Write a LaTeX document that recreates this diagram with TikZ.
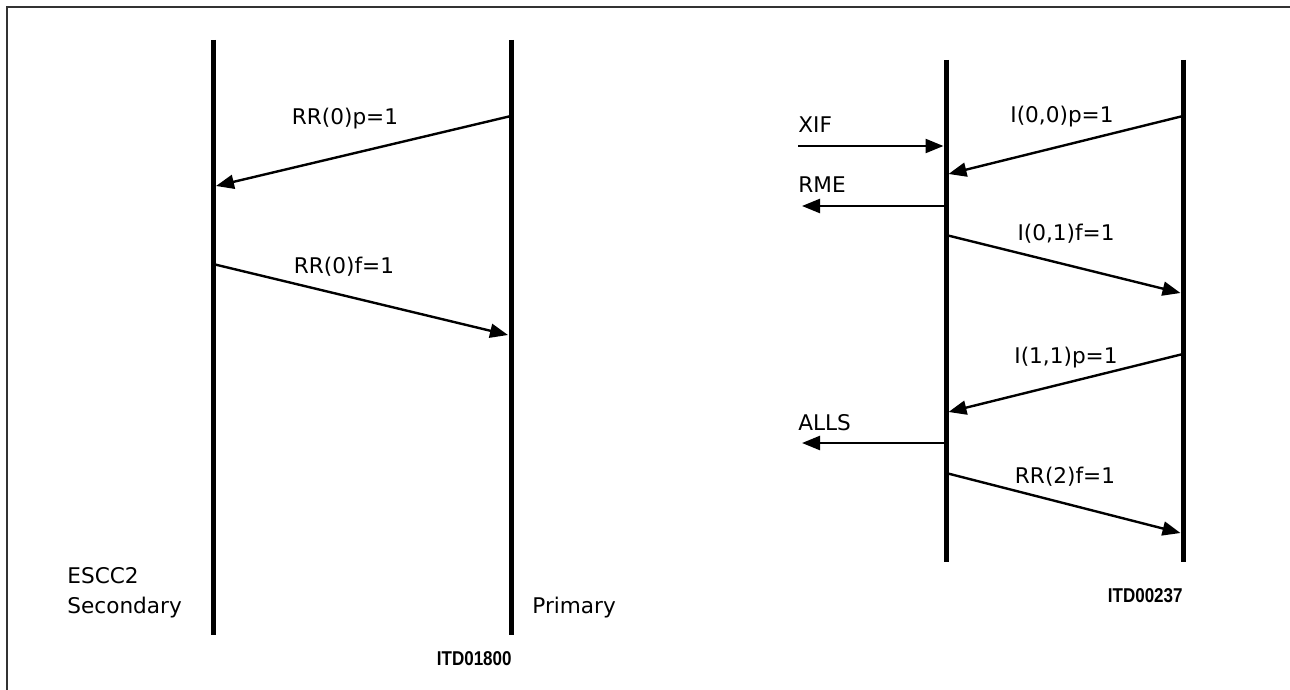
\documentclass[tikz,border=0pt]{standalone}
\usepackage{fontspec}
\setmainfont{DejaVu Sans}
\newfontfamily\itdfont[FakeStretch=0.85]{Liberation Sans}
\usetikzlibrary{positioning,arrows.meta}

\begin{document}
\begin{tikzpicture}[
    x=0.5pt,y=-0.5pt,
    life/.style={line width=2.5pt},
    msg/.style={line width=1.2pt,-{Triangle[length=9pt,width=7pt]}},
    lbl/.style={inner sep=0pt,font=\fontsize{10.8}{15}\selectfont},
    tag/.style={inner sep=0pt,font=\itdfont\bfseries\fontsize{10}{12}\selectfont}
  ]
  \useasboundingbox (0,0) rectangle (1290,690);
  \draw[line width=1pt,black!80] (7,690) -- (7,7) -- (1290,7);

  % left chart
  \coordinate (sec top) at (213,40);
  \coordinate (sec bot) at (213,635);
  \coordinate (pri top) at (511,40);
  \coordinate (pri bot) at (511,635);
  \draw[life] (sec top) -- (sec bot);
  \draw[life] (pri top) -- (pri bot);

  \coordinate (pri a) at (511,116);
  \coordinate (sec a) at (216,186);
  \coordinate (sec b) at (213,264);
  \coordinate (pri b) at (508,335);
  \draw[msg] (pri a) -- (sec a);
  \draw[msg] (sec b) -- (pri b);
  \node[lbl,anchor=base] (rrp) at (345,125) {RR(0)p=1};
  \node[lbl,anchor=base] (rrf) at (344,273) {RR(0)f=1};

  \node[lbl,anchor=south west,align=left] (escc) at (67,618) {ESCC2\\Secondary};
  \node[lbl,anchor=base west] (prim) at (532,613) {Primary};
  \node[tag,anchor=base east] (itd1) at (512,665) {ITD01800};

  % right chart
  \coordinate (st top) at (946,60);
  \coordinate (st bot) at (946,562);
  \coordinate (pr top) at (1183,60);
  \coordinate (pr bot) at (1183,562);
  \draw[life] (st top) -- (st bot);
  \draw[life] (pr top) -- (pr bot);

  \coordinate (xif) at (798,146);
  \coordinate (st xif) at (943.5,146);
  \coordinate (pr a) at (1183,116);
  \coordinate (st a) at (948.5,174);
  \coordinate (st rme) at (946,206);
  \coordinate (rme) at (802,206);
  \coordinate (st b) at (946,235);
  \coordinate (pr b) at (1180.5,293);
  \coordinate (pr c) at (1183,354);
  \coordinate (st c) at (948.5,412);
  \coordinate (st alls) at (946,443);
  \coordinate (alls) at (802,443);
  \coordinate (st d) at (946,473);
  \coordinate (pr d) at (1180.5,533);

  \draw[msg] (xif) -- (st xif);
  \draw[msg] (pr a) -- (st a);
  \draw[msg] (st rme) -- (rme);
  \draw[msg] (st b) -- (pr b);
  \draw[msg] (pr c) -- (st c);
  \draw[msg] (st alls) -- (alls);
  \draw[msg] (st d) -- (pr d);

  \node[lbl,anchor=base west] (xiflbl) at (798,133) {XIF};
  \node[lbl,anchor=base west] (rmelbl) at (798,192) {RME};
  \node[lbl,anchor=base west] (allslbl) at (798,430) {ALLS};
  \node[lbl,anchor=base] (i00) at (1062,123) {I(0,0)p=1};
  \node[lbl,anchor=base] (i01) at (1066,240) {I(0,1)f=1};
  \node[lbl,anchor=base] (i11) at (1066,363) {I(1,1)p=1};
  \node[lbl,anchor=base] (rr2) at (1065,483) {RR(2)f=1};
  \node[tag,anchor=base east] (itd2) at (1183,602) {ITD00237};
\end{tikzpicture}
\end{document}
